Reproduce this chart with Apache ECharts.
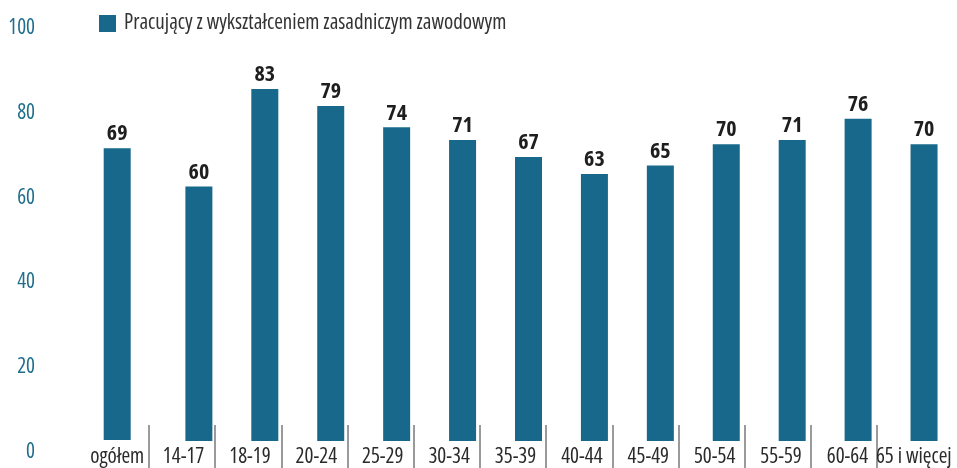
<!DOCTYPE html>
<html>
<head>
<meta charset="utf-8">
<script src="https://cdn.jsdelivr.net/npm/echarts@6/dist/echarts.min.js"></script>
<style>
  html, body { margin: 0; padding: 0; background: #fff; }
  #chart { width: 957px; height: 468px; }
</style>
</head>
<body>
<div id="chart"></div>
<script>
// dane
const categories = ['ogółem', '14-17', '18-19', '20-24', '25-29', '30-34', '35-39', '40-44', '45-49', '50-54', '55-59', '60-64', '65 i więcej'];
const values = [69, 60, 83, 79, 74, 71, 67, 63, 65, 70, 71, 76, 70];
const seriesName = 'Pracujący z wykształceniem zasadniczym zawodowym';
const separators = categories.slice(1); // kreski między kategoriami

// słupek "ogółem" stoi pod swoim podpisem, grupy wieku są lekko przesunięte w prawo
const totalBar = values.map((v, i) => i === 0 ? v : '-');
const ageBars = values.map((v, i) => i === 0 ? '-' : v);

const barColor = '#17688b';
const font = "'Open Sans', sans-serif";
const stretch = 'condensed'; // trafia do skrótu font w canvasie

const valueLabel = {
  show: true,
  position: 'top',
  distance: 3,
  fontFamily: font,
  fontStyle: stretch,
  fontWeight: 'bold',
  fontSize: 22,
  color: '#1e1e1e'
};

const chart = echarts.init(document.getElementById('chart'));

const option = {
  animation: false,
  legend: {
    left: 99,
    top: 13,
    padding: 0,
    itemWidth: 17,
    itemHeight: 17,
    icon: 'rect',
    data: [seriesName],
    textStyle: {fontFamily: font, fontStyle: stretch, fontSize: 21, color: '#333', padding: [0, 0, 0, 3]}
  },
  grid: [
    {left: 100, right: -4, top: 17, bottom: 27}, // słupki grup wieku
    {left: 84, right: 10, top: 17, bottom: 27}, // podpisy osi x, słupek ogółem
    {left: 149, right: 80, top: 425, bottom: 0} // separatory
  ],
  xAxis: [
    {
      type: 'category',
      gridIndex: 0,
      data: categories,
      show: false
    },
    {
      type: 'category',
      gridIndex: 1,
      data: categories,
      axisLine: {show: false},
      axisTick: {show: false},
      axisLabel: {
        interval: 0,
        margin: 7,
        fontFamily: font,
        fontStyle: stretch,
        fontSize: 21,
        color: '#2a2a2a'
      }
    },
    {
      type: 'category',
      gridIndex: 2,
      data: separators,
      boundaryGap: false,
      axisLine: {show: false},
      axisLabel: {show: false},
      axisTick: {show: false},
      splitLine: {show: true, interval: 0, lineStyle: {color: '#9a9a9a', width: 2}}
    }
  ],
  yAxis: [
    {
      type: 'value',
      gridIndex: 0,
      min: 0,
      max: 100,
      interval: 20,
      splitLine: {show: false},
      axisLine: {show: false},
      axisTick: {show: false},
      axisLabel: {
        margin: 65,
        fontFamily: font,
        fontStyle: stretch,
        fontSize: 21,
        color: '#1f6e8c',
        verticalAlign: 'top',
        lineHeight: 22
      }
    },
    {type: 'value', gridIndex: 1, min: 0, max: 100, show: false},
    {type: 'value', gridIndex: 2, min: 0, max: 1, show: false}
  ],
  series: [
    {
      name: seriesName,
      type: 'bar',
      xAxisIndex: 1,
      yAxisIndex: 1,
      data: totalBar,
      barWidth: 27,
      itemStyle: {color: barColor},
      label: valueLabel
    },
    {
      name: seriesName,
      type: 'bar',
      xAxisIndex: 0,
      yAxisIndex: 0,
      data: ageBars,
      barWidth: 27,
      itemStyle: {color: barColor},
      label: valueLabel
    }
  ]
};

chart.setOption(option);
</script>
</body>
</html>
